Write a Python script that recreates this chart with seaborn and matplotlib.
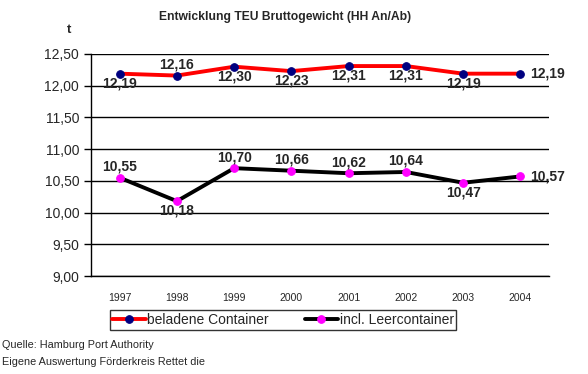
import matplotlib
matplotlib.use("Agg")
import matplotlib.pyplot as plt
import seaborn as sns
import pandas as pd

# data
years = ["1997", "1998", "1999", "2000", "2001", "2002", "2003", "2004"]
beladen = [12.19, 12.16, 12.30, 12.23, 12.31, 12.31, 12.19, 12.19]
incl_leer = [10.55, 10.18, 10.70, 10.66, 10.62, 10.64, 10.47, 10.57]
# where each value label sits relative to its point
pos_beladen = ["below", "above", "below", "below", "below", "below", "below", "right"]
pos_leer = ["above", "below", "above", "above", "above", "above", "below", "right"]

sns.set_style("white")
plt.rcParams["font.family"] = ["Liberation Sans", "DejaVu Sans"]

fig = plt.figure(figsize=(5.88, 3.74), dpi=100)
ax = fig.add_axes([91 / 588, 1 - 276 / 374, (549 - 91) / 588, (276 - 54) / 374])

df = pd.DataFrame({"x": range(len(years)), "beladen": beladen, "leer": incl_leer})

sns.lineplot(data=df, x="x", y="beladen", ax=ax, color="#ff0000", linewidth=2.8,
             marker="o", markersize=5.5, markerfacecolor="#000080", markeredgecolor="#000080",
             label="beladene Container")
sns.lineplot(data=df, x="x", y="leer", ax=ax, color="black", linewidth=2.8,
             marker="o", markersize=5.5, markerfacecolor="#ff00ff", markeredgecolor="#ff00ff",
             label="incl. Leercontainer")


def fmt(v):
    return f"{v:.2f}".replace(".", ",")


def put_labels(vals, where):
    for i, (v, w) in enumerate(zip(vals, where)):
        if w == "above":
            ax.annotate(fmt(v), (i, v), xytext=(0, 3), textcoords="offset points",
                        ha="center", va="bottom", fontsize=10, fontweight="bold")
        elif w == "below":
            ax.annotate(fmt(v), (i, v), xytext=(0, -2), textcoords="offset points",
                        ha="center", va="top", fontsize=10, fontweight="bold")
        else:
            ax.annotate(fmt(v), (i, v), xytext=(7, 0), textcoords="offset points",
                        ha="left", va="center", fontsize=10, fontweight="bold")


put_labels(beladen, pos_beladen)
put_labels(incl_leer, pos_leer)

ax.set_xlim(-0.5, len(years) - 0.5)
ax.set_ylim(9.0, 12.5)
ax.set_yticks([9.0 + 0.5 * k for k in range(8)])
ax.set_yticklabels([fmt(t) for t in ax.get_yticks()], fontsize=10)
ax.set_xticks(range(len(years)))
ax.set_xticklabels(years, fontsize=7.5)
ax.set_xticks([i - 0.5 for i in range(len(years) + 1)], minor=True)
ax.tick_params(axis="x", which="major", length=0, pad=12)
ax.tick_params(axis="x", which="minor", length=5, width=1, color="black", direction="out")
ax.tick_params(axis="y", length=5, width=1, color="black", direction="out", left=True)
ax.set_xlabel("")
ax.set_ylabel("")

ax.grid(axis="y", color="black", linewidth=1)
ax.grid(axis="x", visible=False)
for s in ["top", "right"]:
    ax.spines[s].set_visible(False)
for s in ["left", "bottom"]:
    ax.spines[s].set_color("black")
    ax.spines[s].set_linewidth(1)

fig.text(285 / 588, 1 - 17 / 374, "Entwicklung TEU Bruttogewicht (HH An/Ab)",
         ha="center", va="center", fontsize=8.7, fontweight="bold")
fig.text(69 / 588, 1 - 30 / 374, "t", ha="center", va="center", fontsize=9.5, fontweight="bold")

ax.get_legend().remove()
h, l = ax.get_legend_handles_labels()
leg = fig.legend(h, l, ncol=2, loc="center", bbox_to_anchor=(283 / 588, 1 - 320 / 374),
                 fontsize=10, frameon=True, fancybox=False, edgecolor="black",
                 handlelength=2.4, handletextpad=0.1, columnspacing=2.6,
                 borderpad=0.2)
leg.get_frame().set_linewidth(1)

fig.text(2 / 588, 1 - 345 / 374, "Quelle: Hamburg Port Authority", ha="left", va="center", fontsize=7.8)
fig.text(2 / 588, 1 - 362 / 374, "Eigene Auswertung Förderkreis Rettet die", ha="left", va="center",
         fontsize=7.8)

fig.savefig("out.png", dpi=100)
